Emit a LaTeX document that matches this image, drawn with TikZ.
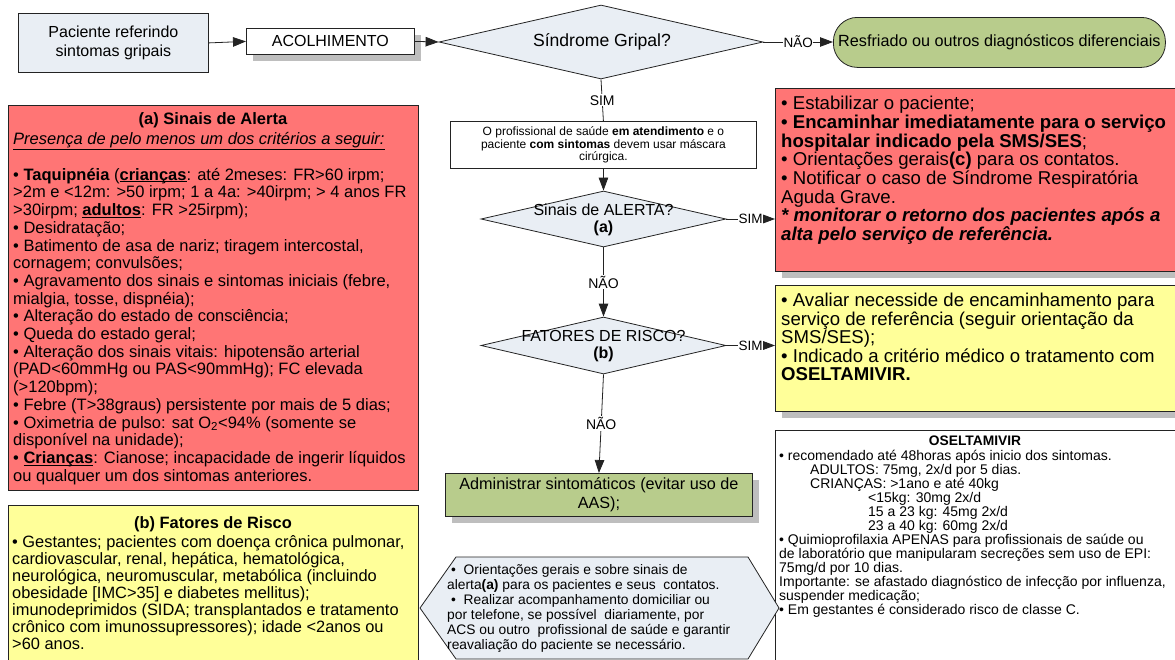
\documentclass[tikz,border=0pt]{standalone}
\usepackage{fontspec}
\setmainfont{Liberation Sans}
\usetikzlibrary{shapes.geometric,arrows.meta,shadows}
\definecolor{lblue}{RGB}{233,238,244}
\definecolor{boxred}{RGB}{255,117,117}
\definecolor{boxyel}{RGB}{255,255,153}
\definecolor{boxgreen}{RGB}{184,204,140}
\definecolor{shadc}{RGB}{190,190,190}
\definecolor{bordc}{RGB}{35,35,35}
\newcommand\myul[1]{\underline{\raisebox{0pt}[\height][0pt]{#1}}}
\begin{document}
\begin{tikzpicture}[x=1pt,y=-1pt,
  box/.style={draw=bordc, line width=0.8pt, rectangle, inner sep=0pt, anchor=north west},
  shad/.style={drop shadow={shadow xshift=7pt,shadow yshift=-7pt,fill=shadc,opacity=1}},
  dia/.style={draw=bordc, line width=0.8pt, diamond, fill=lblue, inner sep=0pt},
  conn/.style={draw=bordc, line width=0.8pt, -{Triangle[length=13pt,width=9.5pt]}},
  plainline/.style={draw=bordc, line width=0.8pt},
  lbl/.style={fill=white, inner sep=1pt, font=\fontsize{14}{16}\selectfont},
  lbls/.style={fill=white, inner sep=0.5pt, font=\fontsize{13.5}{15}\selectfont},
  txt/.style={inner sep=0pt, align=left, anchor=north west},
  ctxt/.style={inner sep=0pt, align=center}]
\useasboundingbox (0,0) rectangle (1175,659);
\clip (0,0) rectangle (1175,659);

% top row
\node[box, fill=lblue, minimum width=190pt, minimum height=59pt] (pac) at (18,13) {};
\node[ctxt, font=\fontsize{16}{19}\selectfont] (pact) at (pac.center) {Paciente referindo\\sintomas gripais};
\node[box, fill=white, shad, minimum width=168pt, minimum height=26pt] (acol) at (246,28) {};
\node[ctxt, font=\fontsize{16}{18}\selectfont] (acolt) at (acol.center) {ACOLHIMENTO};
\node[dia, minimum width=324pt, minimum height=74pt] (d1) at (601,42) {};
\node[ctxt, font=\fontsize{17.6}{20}\selectfont] (d1t) at (602,42) {Síndrome Gripal?};
\node[box, fill=boxgreen, rounded corners=24pt, minimum width=332pt, minimum height=50pt] (resf) at (833,17) {};
\node[ctxt, font=\fontsize{16.2}{19}\selectfont] (resft) at (resf.center) {Resfriado ou outros diagnósticos diferenciais};

% central column
\node[box, fill=white, minimum width=306pt, minimum height=47pt] (mask) at (450,121) {};
\node[ctxt, font=\fontsize{12}{12.7}\selectfont] (maskt) at (mask.center) {O profissional de saúde \textbf{em atendimento} e o\\paciente \textbf{com sintomas} devem usar máscara\\cirúrgica.};
\node[dia, minimum width=245pt, minimum height=56pt] (d2) at (603.5,219) {};
\node[ctxt, font=\fontsize{16}{17.5}\selectfont] (d2t) at (603.5,220) {Sinais de ALERTA?\\\textbf{(a)}};
\node[dia, minimum width=245pt, minimum height=57pt] (d3) at (603.5,345.5) {};
\node[ctxt, font=\fontsize{16}{17.5}\selectfont] (d3t) at (603.5,346) {FATORES DE RISCO?\\\textbf{(b)}};
\node[box, fill=boxgreen, shad, minimum width=307pt, minimum height=43pt] (adm) at (445,473) {};
\node[ctxt, font=\fontsize{16.2}{18.5}\selectfont] (admt) at (adm.center) {Administrar sintomáticos (evitar uso de\\AAS);};

% right column
\node[box, fill=boxred, shad, minimum width=405pt, minimum height=183pt] (redR) at (775,88) {};
\node[txt, font=\fontsize{18.6}{18.7}\selectfont] (redRt) at (781,96) {• Estabilizar o paciente;\\
\textbf{• Encaminhar imediatamente para o serviço}\\
\textbf{hospitalar indicado pela SMS/SES};\\
• Orientações gerais\textbf{(c)} para os contatos.\\
• Notificar o caso de Síndrome Respiratória\\
Aguda Grave.\\
\textbf{\textit{* monitorar o retorno dos pacientes após a}}\\
\textbf{\textit{alta pelo serviço de referência.}}};
\node[box, fill=boxyel, shad, minimum width=405pt, minimum height=126pt] (yelR) at (775,285) {};
\node[txt, font=\fontsize{18.6}{18.5}\selectfont] (yelRt) at (781,293) {• Avaliar necesside de encaminhamento para\\
serviço de referência (seguir orientação da\\
SMS/SES);\\
• Indicado a critério médico o tratamento com\\
\textbf{OSELTAMIVIR.}};
\node[box, fill=white, line width=0.6pt, minimum width=410pt, minimum height=240pt] (osel) at (775,430) {};
\node[ctxt, font=\bfseries\fontsize{13.8}{14}\selectfont] (oselh) at (975,441) {OSELTAMIVIR};
\node[txt, font=\fontsize{14}{14}\selectfont] (oselt) at (779,449.7) {• recomendado até 48horas após inicio dos sintomas.\\
\hspace*{31pt}ADULTOS: 75mg, 2x/d por 5 dias.\\
\hspace*{31pt}CRIANÇAS: >1ano e até 40kg\\
\hspace*{89pt}<15kg: 30mg 2x/d\\
\hspace*{89pt}15 a 23 kg: 45mg 2x/d\\
\hspace*{89pt}23 a 40 kg: 60mg 2x/d\\
• Quimioprofilaxia APENAS para profissionais de saúde ou\\
de laboratório que manipularam secreções sem uso de EPI:\\
75mg/d por 10 dias.\\
Importante: se afastado diagnóstico de infecção por influenza,\\
suspender medicação;\\
• Em gestantes é considerado risco de classe C.};

% left column
\node[box, fill=boxred, minimum width=410pt, minimum height=385pt] (redL) at (8,105) {};
\node[ctxt, font=\bfseries\fontsize{16.5}{18}\selectfont] (redLh) at (213,120) {(a) Sinais de Alerta};
\node[txt, font=\fontsize{16.5}{17.7}\selectfont] (redLt) at (13,132.5) {\textit{\underline{Presença de pelo menos um dos critérios a seguir:}}\\
\mbox{}\\
• \textbf{Taquipnéia} (\myul{\textbf{crianças}}: até 2meses: FR>60 irpm;\\
>2m e <12m: >50 irpm; 1 a 4a: >40irpm; > 4 anos FR\\
>30irpm; \myul{\textbf{adultos}}: FR >25irpm);\\
• Desidratação;\\
• Batimento de asa de nariz; tiragem intercostal,\\
cornagem; convulsões;\\
• Agravamento dos sinais e sintomas iniciais (febre,\\
mialgia, tosse, dispnéia);\\
• Alteração do estado de consciência;\\
• Queda do estado geral;\\
• Alteração dos sinais vitais: hipotensão arterial\\
(PAD<60mmHg ou PAS<90mmHg); FC elevada\\
(>120bpm);\\
• Febre (T>38graus) persistente por mais de 5 dias;\\
• Oximetria de pulso: sat O\textsubscript{2}<94\% (somente se\\
disponível na unidade);\\
• \myul{\textbf{Crianças}}: Cianose; incapacidade de ingerir líquidos\\
ou qualquer um dos sintomas anteriores.};
\node[box, fill=boxyel, minimum width=410pt, minimum height=170pt] (yelL) at (8,505) {};
\node[ctxt, font=\bfseries\fontsize{16.4}{17}\selectfont] (yelLh) at (213,524) {(b) Fatores de Risco};
\node[txt, font=\fontsize{16.4}{17}\selectfont] (yelLt) at (12,535) {• Gestantes; pacientes com doença crônica pulmonar,\\
cardiovascular, renal, hepática, hematológica,\\
neurológica, neuromuscular, metabólica (incluindo\\
obesidade [IMC>35] e diabetes mellitus);\\
imunodeprimidos (SIDA; transplantados e tratamento\\
crônico com imunossupressores); idade <2anos ou\\
>60 anos.};

% hexagon
\draw[draw=bordc, line width=0.8pt, fill=lblue] (420,608) -- (456,557) -- (748,557) -- (779,608) -- (748,659) -- (456,659) -- cycle;
\node[txt, font=\fontsize{13.8}{15}\selectfont] (hext) at (447,564) {\hspace*{4pt}•\ \ Orientações gerais e sobre sinais de\\
alerta\textbf{(a)} para os pacientes e seus\ \ contatos.\\
\hspace*{4pt}•\ \ Realizar acompanhamento domiciliar ou\\
por telefone, se possível\ \ diariamente, por\\
ACS ou outro\ \ profissional de saúde e garantir\\
reavaliação do paciente se necessário.};

% connectors
\draw[conn] (pac.east) -- (acol.west);
\draw[conn] (acol.east) -- (d1.west);
\draw[conn] (d1.east) -- node[lbls] (l1) {NÃO} (d1.east -| resf.west);
\draw[plainline] (d1.south) -- node[lbl] (l2) {SIM} (mask.north);
\draw[conn] (mask.south) -- (d2.north);
\draw[conn] (d2.east) -- node[lbls] (l3) {SIM} (d2.east -| redR.west);
\draw[conn] (d2.south) -- node[lbl] (l4) {NÃO} (d3.north);
\draw[conn] (d3.east) -- node[lbls] (l5) {SIM} (d3.east -| yelR.west);
\draw[conn] (d3.south) -- node[lbl] (l6) {NÃO} (adm.north);
\end{tikzpicture}
\end{document}
